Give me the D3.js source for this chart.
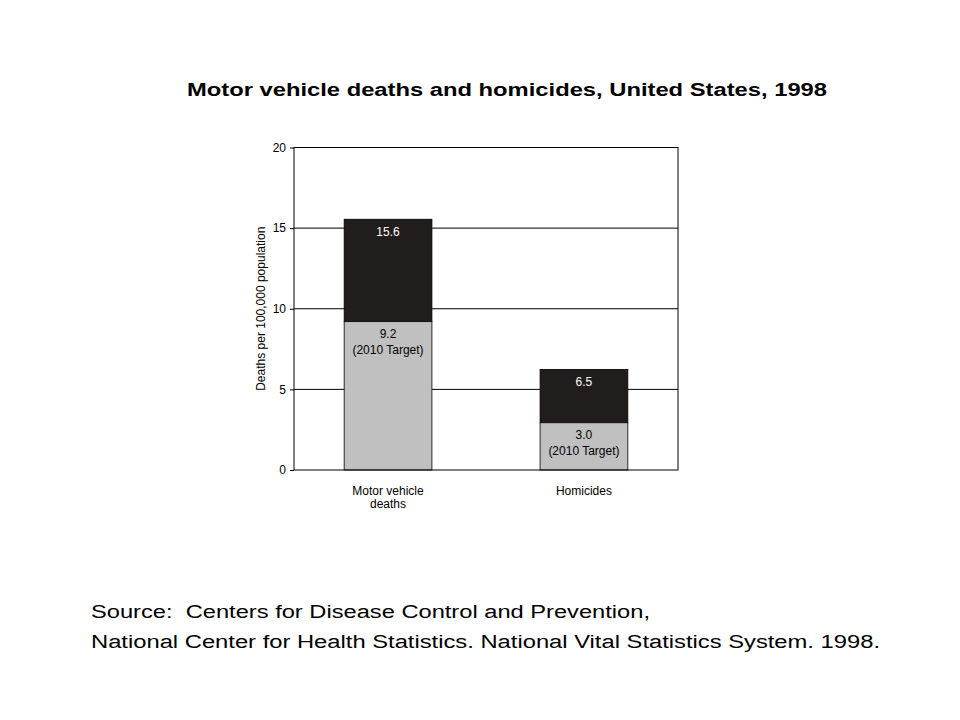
<!DOCTYPE html>
<html>
<head>
<meta charset="utf-8">
<script src="https://cdn.jsdelivr.net/npm/d3@7"></script>
<style>
  html, body { margin: 0; padding: 0; background: #fff; }
  text { font-family: Arial, "Liberation Sans", sans-serif; white-space: pre; }
</style>
</head>
<body>
<svg id="chart" width="960" height="720"></svg>
<script>
// ---- data ----
const categories = ["Motor vehicle deaths", "Homicides"];
const categoryLines = [["Motor vehicle", "deaths"], ["Homicides"]];
const targetValues = [9.2, 2.93];        // 2010 target (gray segment top)
const actualValues = [15.55, 6.24];      // 1998 actual (bar top, as drawn)
const actualLabels = ["15.6", "6.5"];
const targetLabels = ["9.2", "3.0"];
const yTicks = [0, 5, 10, 15, 20];
const gridValues = [5, 10, 15];
const titleText = "Motor vehicle deaths and homicides, United States, 1998";
const yAxisTitle = "Deaths per 100,000 population";
const sourceLines = [
  "Source:  Centers for Disease Control and Prevention,",
  "National Center for Health Statistics. National Vital Statistics System. 1998."
];

// ---- layout ----
const svg = d3.select("#chart");
const plot = { left: 294, right: 678, top: 147.5, bottom: 470 };
const titleWidth = 640;
const sourceWidths = [559, 789];

const y = d3.scaleLinear().domain([0, 20]).range([plot.bottom, plot.top]);
const x = d3.scaleBand().domain(categories)
  .range([plot.left, plot.right]).paddingInner(0.552).paddingOuter(0.256);

function fitWidth(sel, w) {
  sel.attr("textLength", w).attr("lengthAdjust", "spacingAndGlyphs");
}

// title
svg.append("text")
  .attr("x", 507).attr("y", 96)
  .attr("text-anchor", "middle")
  .attr("font-size", 18).attr("font-weight", "bold")
  .attr("fill", "#000")
  .text(titleText)
  .call(fitWidth, titleWidth);

// gridlines
svg.append("g").selectAll("line").data(gridValues).join("line")
  .attr("x1", plot.left).attr("x2", plot.right)
  .attr("y1", d => y(d)).attr("y2", d => y(d))
  .attr("stroke", "#000").attr("stroke-width", 1);

// bars
const bars = svg.append("g");
bars.selectAll("rect.actual").data(categories).join("rect")
  .attr("class", "actual")
  .attr("x", d => x(d)).attr("width", x.bandwidth())
  .attr("y", (d, i) => y(actualValues[i]))
  .attr("height", (d, i) => y(targetValues[i]) - y(actualValues[i]))
  .attr("fill", "#211d1d").attr("stroke", "#000").attr("stroke-width", 0.8);

bars.selectAll("rect.target").data(categories).join("rect")
  .attr("class", "target")
  .attr("x", d => x(d)).attr("width", x.bandwidth())
  .attr("y", (d, i) => y(targetValues[i]))
  .attr("height", (d, i) => y(0) - y(targetValues[i]))
  .attr("fill", "#c0c0c0").attr("stroke", "#000").attr("stroke-width", 0.8);

// plot frame
svg.append("rect")
  .attr("x", plot.left).attr("y", plot.top)
  .attr("width", plot.right - plot.left).attr("height", plot.bottom - plot.top)
  .attr("fill", "none").attr("stroke", "#000").attr("stroke-width", 1);

// y axis
const yAxis = d3.axisLeft(y).tickValues(yTicks).tickSize(4).tickPadding(4)
  .tickFormat(d3.format("d"));
const gy = svg.append("g").attr("transform", `translate(${plot.left},0)`).call(yAxis);
gy.select(".domain").remove();
gy.selectAll("text").attr("font-size", 12).attr("fill", "#000")
  .attr("font-family", "Arial, 'Liberation Sans', sans-serif");
gy.selectAll("line").attr("stroke", "#000");

// y axis title
svg.append("text")
  .attr("transform", `translate(265,${(plot.top + plot.bottom) / 2}) rotate(-90)`)
  .attr("text-anchor", "middle")
  .attr("font-size", 12).attr("fill", "#000")
  .text(yAxisTitle);

// bar value labels
const labels = svg.append("g").attr("font-size", 12).attr("text-anchor", "middle");
labels.selectAll("text.act").data(categories).join("text")
  .attr("class", "act")
  .attr("x", d => x(d) + x.bandwidth() / 2)
  .attr("y", (d, i) => y(actualValues[i]) + 16.5)
  .attr("fill", "#fff")
  .text((d, i) => actualLabels[i]);
labels.selectAll("text.tgt").data(categories).join("text")
  .attr("class", "tgt")
  .attr("x", d => x(d) + x.bandwidth() / 2)
  .attr("y", (d, i) => y(targetValues[i]) + 16)
  .attr("fill", "#000")
  .text((d, i) => targetLabels[i]);
labels.selectAll("text.tgt2").data(categories).join("text")
  .attr("class", "tgt2")
  .attr("x", d => x(d) + x.bandwidth() / 2)
  .attr("y", (d, i) => y(targetValues[i]) + 32)
  .attr("fill", "#000")
  .text("(2010 Target)");

// category labels
const xl = svg.append("g").attr("font-size", 12).attr("text-anchor", "middle");
categories.forEach((c, i) => {
  categoryLines[i].forEach((line, j) => {
    xl.append("text")
      .attr("x", x(c) + x.bandwidth() / 2)
      .attr("y", 494.5 + j * 13.5)
      .attr("fill", "#000")
      .text(line);
  });
});

// source
svg.append("g").selectAll("text").data(sourceLines).join("text")
  .attr("x", 91).attr("y", (d, i) => 618 + i * 30)
  .attr("font-size", 18).attr("fill", "#000")
  .text(d => d)
  .each(function(d, i) { d3.select(this).call(fitWidth, sourceWidths[i]); });
</script>
</body>
</html>
